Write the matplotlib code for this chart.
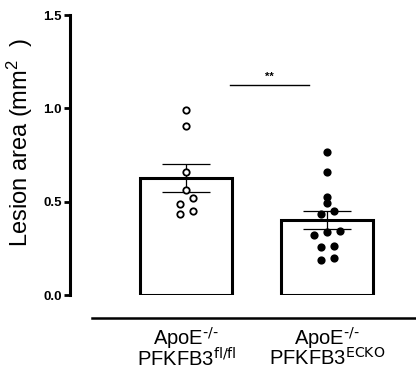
import numpy as np
import matplotlib
matplotlib.use('Agg')
import matplotlib.pyplot as plt

plt.rcParams['font.family'] = ['Liberation Sans', 'DejaVu Sans']
plt.rcParams['mathtext.default'] = 'regular'

# data (mm^2)
groups = [r'ApoE$^{\text{-/-}}$' + '\n' + r'PFKFB3$^{\text{fl/fl}}$',
          r'ApoE$^{\text{-/-}}$' + '\n' + r'PFKFB3$^{\text{ECKO}}$']
flfl = [0.989, 0.905, 0.659, 0.562, 0.518, 0.489, 0.448, 0.435]
ecko = [0.768, 0.657, 0.525, 0.491, 0.452, 0.434, 0.344, 0.337, 0.323,
        0.264, 0.255, 0.197, 0.187]
yticks = [0.0, 0.5, 1.0, 1.5]
sig_label = '**'


def swarm(vals, thresh=0.032, step=0.092):
    # group close values into rows and spread each row sideways
    vals = np.asarray(vals)
    order = np.argsort(vals)
    ofs = np.zeros(len(vals))
    rows = []
    for i in order:
        if rows and vals[i] - vals[rows[-1][0]] < thresh:
            rows[-1].append(i)
        else:
            rows.append([i])
    for row in rows:
        n = len(row)
        for k, i in enumerate(row):
            ofs[i] = (k - (n - 1)/2.)*step
    return ofs


fig = plt.figure(figsize=(4.16, 3.71), dpi=100)
ax = fig.add_axes([70/416., 76/371., 346/416., 280/371.])

# spines first: moving a spine resets the tick labels
for s in ['top', 'right']:
    ax.spines[s].set_visible(False)
ax.spines['left'].set_linewidth(2.2)
ax.spines['bottom'].set_position(('outward', 16.5))
ax.spines['bottom'].set_linewidth(1.8)

xs = np.arange(len(groups))
data = [flfl, ecko]
means = [np.mean(d) for d in data]
sems = [np.std(d, ddof=1)/np.sqrt(len(d)) for d in data]

ax.bar(xs, means, width=0.655, color='white', edgecolor='black',
       linewidth=2.2, zorder=1)
ax.errorbar(xs, means, yerr=sems, fmt='none', ecolor='black',
            elinewidth=0.9, capsize=17, capthick=0.9, zorder=3)

faces = ['white', 'black']
for x, d, fc in zip(xs, data, faces):
    ax.plot(x + swarm(d), d, 'o', ms=4.6, mfc=fc, mec='black', mew=1.3,
            zorder=4, clip_on=False)

# significance
ax.plot([0.31, 0.87], [1.125, 1.125], color='black', lw=1.0)
ax.text(0.59, 1.14, sig_label, ha='center', va='bottom', fontsize=8,
        fontweight='bold')

ax.set_xlim(-0.825, 1.629)
ax.set_ylim(0, 1.5)
ax.spines['left'].set_bounds(0, 1.5)
ax.spines['bottom'].set_bounds(-0.669, 1.629)

ax.set_yticks(yticks)
ax.set_yticklabels(['%.1f' % t for t in yticks], fontsize=9.5,
                   fontweight='bold')
ax.tick_params(axis='y', length=4, width=2, pad=2)
ax.set_xticks(xs)
ax.set_xticklabels(groups, fontsize=14.5, linespacing=0.8)
ax.tick_params(axis='x', length=0, pad=5)

fig.text(20/416., 1 - 247/371., 'Lesion area (mm$^{2}$  )', rotation=90,
         ha='center', va='bottom', fontsize=17)

fig.savefig('out.png', dpi=100)
